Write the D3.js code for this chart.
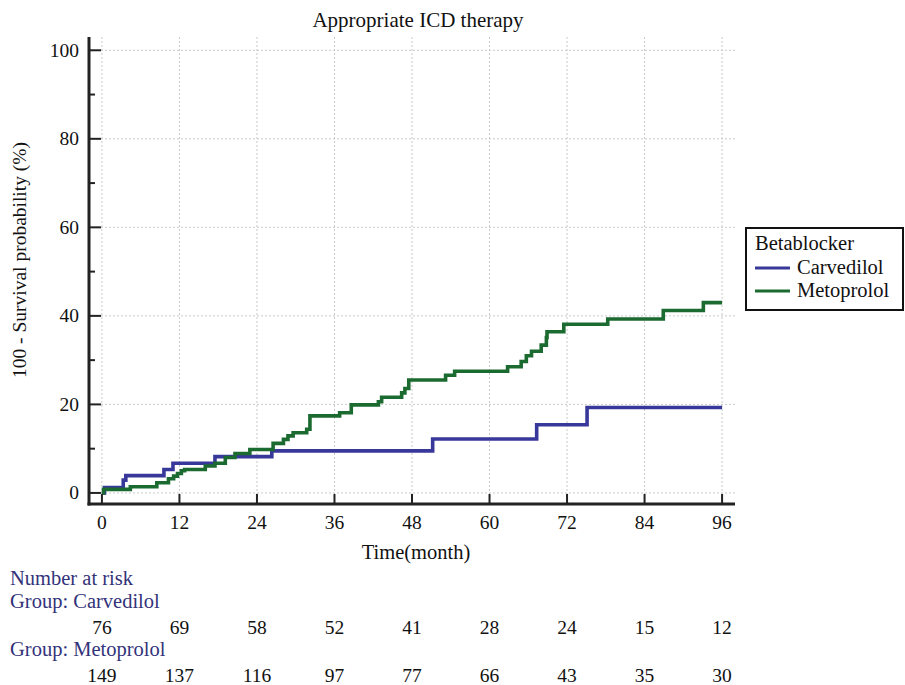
<!DOCTYPE html>
<html>
<head>
<meta charset="utf-8">
<script src="https://cdn.jsdelivr.net/npm/d3@7"></script>
<style>
  body { margin: 0; background: #fff; }
  svg { display: block; font-family: "Liberation Serif", "Times New Roman", serif; }
</style>
</head>
<body>
<svg id="chart" width="905" height="685"></svg>
<script>
// Kaplan-Meier step data (100 - survival %)
const carvTimes = [0, 0.4, 3.3, 3.7, 9.6, 11, 17.5, 26.3, 51.2, 67.3, 75.1, 96];
const carvValues = [0, 1.2, 2.9, 3.9, 5.3, 6.7, 8.2, 9.5, 12.2, 15.4, 19.3, 19.3];

const metoTimes = [0, 0.25, 4.4, 8.5, 10.3, 11.1, 11.7, 12.3, 12.8, 16.0, 17.5, 19.1, 20.6, 22.9,
  26.5, 28.1, 28.8, 29.6, 31.7, 32.2, 36.8, 38.6, 42.8, 43.3, 46.4, 46.9, 47.5, 53.2, 54.6,
  62.8, 64.9, 65.7, 66.5, 68.0, 68.8, 68.9, 71.5, 78.3, 86.9, 93.1, 96];
const metoValues = [0, 0.8, 1.4, 2.3, 3.2, 3.8, 4.4, 5.0, 5.3, 6.1, 6.7, 8.0, 8.9, 9.8,
  11.2, 12.1, 12.9, 13.6, 14.4, 17.4, 18.1, 19.9, 20.6, 21.6, 22.6, 23.6, 25.5, 26.6, 27.5,
  28.5, 29.7, 31.0, 32.0, 33.4, 35.1, 36.4, 38.1, 39.3, 41.2, 43.0, 43.0];

const xTicks = [0, 12, 24, 36, 48, 60, 72, 84, 96];
const yTicks = [0, 20, 40, 60, 80, 100];
const yMinorTicks = [10, 30, 50, 70, 90];

const groups = ["Carvedilol", "Metoprolol"];
const colors = ["#38389a", "#1b6b31"];
const carvRisk = [76, 69, 58, 52, 41, 28, 24, 15, 12];
const metoRisk = [149, 137, 116, 97, 77, 66, 43, 35, 30];

const svg = d3.select("#chart");

const x = d3.scaleLinear().domain([-2, 98]).range([89, 735]);
const y = d3.scaleLinear().domain([-2.5, 103]).range([504, 37]);

// grid
const grid = svg.append("g").attr("stroke", "#c9c9c9").attr("stroke-dasharray", "2,2").attr("stroke-width", 1);
grid.selectAll("line.h").data(yTicks).enter().append("line")
  .attr("x1", x(-2)).attr("x2", x(98))
  .attr("y1", d => y(d)).attr("y2", d => y(d));
grid.selectAll("line.v").data(xTicks).enter().append("line")
  .attr("x1", d => x(d)).attr("x2", d => x(d))
  .attr("y1", y(103)).attr("y2", y(-2.5));

// curves
const line = d3.line().x(d => x(d[0])).y(d => y(d[1])).curve(d3.curveStepAfter);
const series = [d3.zip(carvTimes, carvValues), d3.zip(metoTimes, metoValues)];
svg.append("g").selectAll("path").data(series).enter().append("path")
  .attr("d", line)
  .attr("fill", "none")
  .attr("stroke", (d, i) => colors[i])
  .attr("stroke-width", 3.6);

// axes (drawn by hand to match the inward ticks)
const axisCol = "#222";
svg.append("line").attr("x1", x(-2)).attr("x2", x(-2)).attr("y1", y(103)).attr("y2", y(-2.5) + 1.5)
  .attr("stroke", axisCol).attr("stroke-width", 3);
svg.append("line").attr("x1", x(-2) - 1.5).attr("x2", x(98)).attr("y1", y(-2.5)).attr("y2", y(-2.5))
  .attr("stroke", axisCol).attr("stroke-width", 3);

svg.append("g").selectAll("line").data(yTicks).enter().append("line")
  .attr("x1", x(-2)).attr("x2", x(-2) + 12)
  .attr("y1", d => y(d)).attr("y2", d => y(d))
  .attr("stroke", axisCol).attr("stroke-width", 2);
svg.append("g").selectAll("line").data(yMinorTicks).enter().append("line")
  .attr("x1", x(-2)).attr("x2", x(-2) + 6)
  .attr("y1", d => y(d)).attr("y2", d => y(d))
  .attr("stroke", axisCol).attr("stroke-width", 2);
svg.append("g").selectAll("line").data(xTicks).enter().append("line")
  .attr("x1", d => x(d)).attr("x2", d => x(d))
  .attr("y1", y(-2.5)).attr("y2", y(-2.5) - 10)
  .attr("stroke", axisCol).attr("stroke-width", 2);

svg.append("g").selectAll("text").data(yTicks).enter().append("text")
  .attr("x", 79).attr("y", d => y(d) + 6.5)
  .attr("text-anchor", "end").attr("font-size", 19.5).attr("fill", "#111")
  .text(d => d);
svg.append("g").selectAll("text").data(xTicks).enter().append("text")
  .attr("x", d => x(d)).attr("y", 529)
  .attr("text-anchor", "middle").attr("font-size", 19.5).attr("fill", "#111")
  .text(d => d);

// titles
svg.append("text").attr("x", 418).attr("y", 27).attr("text-anchor", "middle")
  .attr("font-size", 21).attr("fill", "#111").text("Appropriate ICD therapy");
svg.append("text").attr("x", 416).attr("y", 559).attr("text-anchor", "middle")
  .attr("font-size", 20.5).attr("fill", "#111").text("Time(month)");
svg.append("text").attr("transform", "translate(26,260) rotate(-90)").attr("text-anchor", "middle")
  .attr("font-size", 19.5).attr("fill", "#111").text("100 - Survival probability (%)");

// legend
const lg = svg.append("g").attr("transform", "translate(746,228)");
lg.append("rect").attr("width", 157).attr("height", 82)
  .attr("fill", "#fff").attr("stroke", "#111").attr("stroke-width", 2);
lg.append("text").attr("x", 9).attr("y", 22).attr("font-size", 20.5).attr("fill", "#111").text("Betablocker");
groups.forEach((g, i) => {
  lg.append("line").attr("x1", 9).attr("x2", 44).attr("y1", 40 + i * 23).attr("y2", 40 + i * 23)
    .attr("stroke", colors[i]).attr("stroke-width", 3);
  lg.append("text").attr("x", 51).attr("y", 46 + i * 23).attr("font-size", 20.5).attr("fill", "#111").text(g);
});

// number at risk table
const tab = svg.append("g").attr("font-size", 20.5);
const headCol = "#33337a";
tab.append("text").attr("x", 10).attr("y", 585).attr("fill", headCol).text("Number at risk");
tab.append("text").attr("x", 10).attr("y", 608).attr("fill", headCol).text("Group: " + groups[0]);
tab.append("text").attr("x", 10).attr("y", 656).attr("fill", headCol).text("Group: " + groups[1]);
tab.append("g").selectAll("text").data(carvRisk).enter().append("text")
  .attr("x", (d, i) => x(xTicks[i])).attr("y", 634).attr("text-anchor", "middle").attr("fill", "#111")
  .attr("font-size", 19.5).text(d => d);
tab.append("g").selectAll("text").data(metoRisk).enter().append("text")
  .attr("x", (d, i) => x(xTicks[i])).attr("y", 682).attr("text-anchor", "middle").attr("fill", "#111")
  .attr("font-size", 19.5).text(d => d);
</script>
</body>
</html>
